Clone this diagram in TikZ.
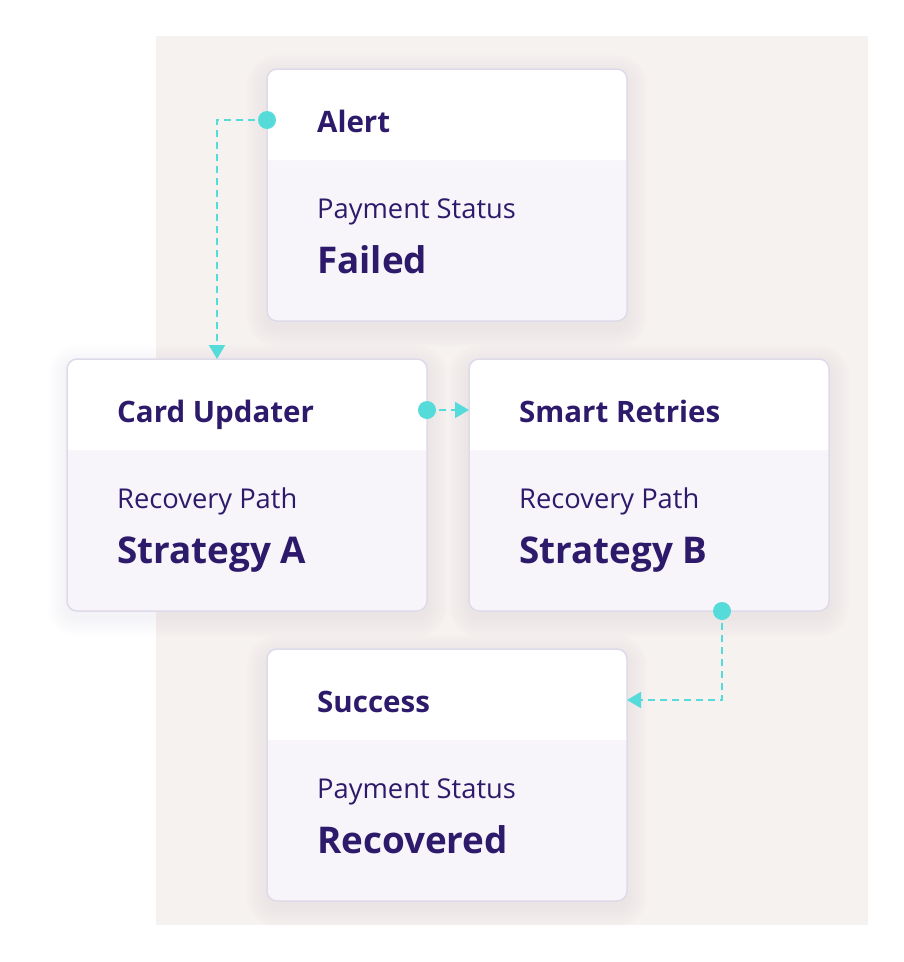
\documentclass[tikz,border=0pt]{standalone}
\usepackage{fontspec}
\setmainfont{Open Sans}
\usetikzlibrary{arrows.meta}
\definecolor{bgc}{HTML}{F6F2EF}
\definecolor{bodyc}{HTML}{F7F5FA}
\definecolor{bordc}{HTML}{DEDAE9}
\definecolor{txtc}{HTML}{2E1A6B}
\definecolor{cyanc}{HTML}{55DCDA}
\definecolor{shadc}{HTML}{A09AB8}
\tikzset{
  cardframe/.style={draw=bordc, line width=1.5pt, rounded corners=10pt, minimum width=360pt, minimum height=252pt, inner sep=0pt, outer sep=0pt, anchor=north west},
  titletxt/.style={anchor=base west, inner sep=0pt, text=txtc, font=\fontsize{29.5}{34}\selectfont\bfseries},
  subtxt/.style={anchor=base west, inner sep=0pt, text=txtc, font=\fontsize{27.3}{31}\selectfont},
  bigtxt/.style={anchor=base west, inner sep=0pt, text=txtc, font=\fontsize{36.8}{42}\selectfont\bfseries},
  conn/.style={draw=cyanc, line width=2pt, dash pattern=on 7pt off 5pt, -{Triangle[length=14pt,width=16pt]}},
  dot/.style={fill=cyanc},
  shadowlayer/.style={fill=shadc, fill opacity=0.012}
}
\newcommand\mycard[6]{%
  \foreach \s in {2,4,...,20}{\fill[shadowlayer, rounded corners=10pt+\s pt] (#2-\s,#3-\s+6) rectangle (#2+360+\s,#3+252+\s+6);}
  \fill[bodyc, rounded corners=10pt] (#2,#3) rectangle ++(360,252);
  \fill[white] (#2,#3+91) {[rounded corners=10pt] -- (#2,#3) -- (#2+360,#3)} -- (#2+360,#3+91) -- cycle;
  \node[cardframe] (#1) at (#2,#3) {};
  \node[titletxt] (#1-title) at (#2+50,#3+63) {#4};
  \node[subtxt] (#1-sub) at (#2+50,#3+149) {#5};
  \node[bigtxt] (#1-big) at (#2+50,#3+204) {#6};
}
\begin{document}
\begin{tikzpicture}[x=1pt,y=-1pt]
\useasboundingbox (0,0) rectangle (904,962);
\fill[bgc] (156,36) rectangle (868,925);
\mycard{alert}{267}{69}{Alert}{Payment Status}{Failed}
\mycard{upd}{67}{359}{Card Updater}{Recovery Path}{Strategy A}
\mycard{smart}{469}{359}{Smart Retries}{Recovery Path}{Strategy B}
\mycard{succ}{267}{649}{Success}{Payment Status}{Recovered}
% connectors
\coordinate (c1) at ([yshift=-51pt]alert.north west);
\coordinate (c2) at ([xshift=150pt]upd.north west);
\draw[conn] (c1) -| (c2);
\coordinate (c3) at ([yshift=-51pt]upd.north east);
\coordinate (c4) at ([yshift=-51pt]smart.north west);
\draw[conn] (c3) -- (c4);
\coordinate (c5) at ([xshift=-107pt]smart.south east);
\coordinate (c6) at ([yshift=-51pt]succ.north east);
\draw[conn] (c5) |- (c6);
\fill[dot] (c1) circle (9pt);
\fill[dot] (c3) circle (9pt);
\fill[dot] (c5) circle (9pt);
\end{tikzpicture}
\end{document}
